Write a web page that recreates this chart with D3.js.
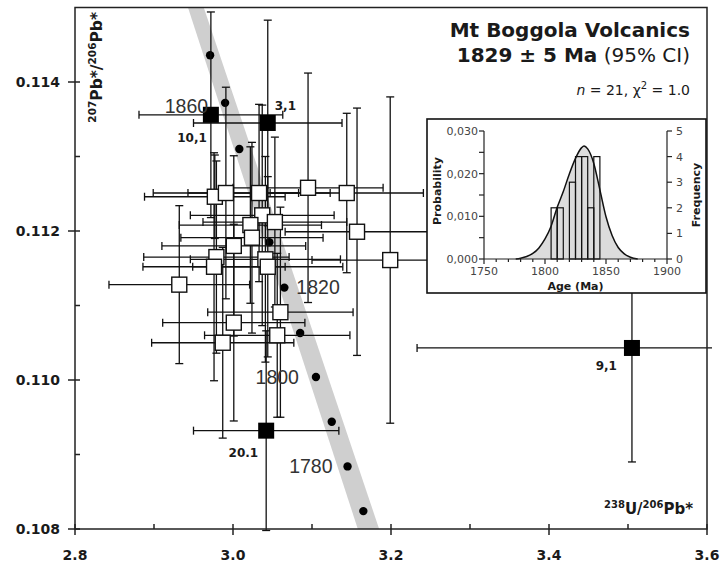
<!DOCTYPE html>
<html>
  <head>
    <meta charset="utf-8">
    <script src="https://d3js.org/d3.v7.min.js" charset="utf-8"></script>
    <style type="text/css">
    body { margin: 0; background: #fff; }
    svg text { font-family: "DejaVu Sans", sans-serif; fill: #1a1a1a; }
    .bold { font-weight: bold; }
    .age-label { font-family: "Liberation Sans", Arial, sans-serif; font-size: 19.5px; fill: #333; }
    </style>
  </head>
  <body>
  <script type="text/javascript">

  // ---- values ----
  var xTicks = [2.8, 3.0, 3.2, 3.4, 3.6];
  var xMinor = [2.9, 3.1, 3.3, 3.5];
  var yTicks = [0.108, 0.110, 0.112, 0.114];
  var yMinor = [0.109, 0.111, 0.113];

  // analyses used in the age (open squares): 238U/206Pb*, 207Pb*/206Pb*, half error bars
  var spotX    = [2.977, 2.991, 3.033, 3.095, 3.144, 3.037, 3.053, 3.022, 3.024, 3.001, 2.979,
                  2.976, 3.041, 3.044, 2.932, 3.060, 3.001, 3.056, 2.987, 3.157, 3.199];
  var spotY    = [0.11246, 0.11251, 0.11251, 0.11258, 0.11251, 0.11221, 0.11212, 0.11208, 0.11191, 0.11180, 0.11165,
                  0.11152, 0.11162, 0.11152, 0.11128, 0.11091, 0.11077, 0.11060, 0.11050, 0.11199, 0.11161];
  var spotXErr = [0.089, 0.092, 0.090, 0.095, 0.097, 0.091, 0.091, 0.090, 0.090, 0.091, 0.092,
                  0.090, 0.095, 0.095, 0.089, 0.092, 0.090, 0.092, 0.090, 0.091, 0.099];
  var spotYErr = [0.00056, 0.00142, 0.00119, 0.00154, 0.00107, 0.00148, 0.00114, 0.00105, 0.00128, 0.00121, 0.00129,
                  0.00153, 0.00138, 0.00121, 0.00106, 0.00141, 0.00132, 0.00110, 0.00128, 0.00166, 0.00219];

  // excluded analyses (filled squares)
  var rejLabel = ["10,1", "3,1", "20.1", "9,1"];
  var rejX     = [2.972, 3.044, 3.042, 3.505];
  var rejY     = [0.11356, 0.11345, 0.10932, 0.11043];
  var rejXErr  = [0.091, 0.094, 0.092, 0.272];
  var rejYErr  = [0.00138, 0.00138, 0.00134, 0.00153];

  // concordia age markers (Ma)
  var concAge = [1870, 1860, 1850, 1840, 1830, 1820, 1810, 1800, 1790, 1780, 1770];
  var concX   = [2.971, 2.990, 3.008, 3.027, 3.046, 3.065, 3.085, 3.105, 3.125, 3.145, 3.165];
  var concY   = [0.11436, 0.11372, 0.11310, 0.11247, 0.11185, 0.11124, 0.11063, 0.11004, 0.10944, 0.10884, 0.10824];
  var concLabelled = [1860, 1820, 1800, 1780];

  // concordia uncertainty band edges
  var bandY     = [0.115, 0.108];
  var bandLeft  = [2.943, 3.158];
  var bandRight = [2.963, 3.185];

  // inset: histogram + probability curve
  var binStart = [1805, 1810, 1815, 1820, 1825, 1830, 1835, 1840];
  var binCount = [2, 2, 0, 3, 4, 4, 2, 4];
  var binWidth = 5;
  var probAge = [1776, 1780, 1785, 1790, 1795, 1800, 1805, 1810, 1815, 1820, 1825, 1830, 1832,
                 1835, 1840, 1845, 1850, 1855, 1860, 1865, 1870, 1876];
  var probVal = [0, 0.0002, 0.0006, 0.0013, 0.0026, 0.0047, 0.0077, 0.0121, 0.0158, 0.0200, 0.0236, 0.0261, 0.0265,
                 0.0258, 0.0224, 0.0162, 0.0099, 0.0055, 0.0027, 0.0012, 0.0004, 0];
  var insetAgeTicks = [1750, 1800, 1850, 1900];
  var probTicks = [0, 0.010, 0.020, 0.030];
  var freqTicks = [0, 1, 2, 3, 4, 5];

  // ---- layout ----
  var W = 720, H = 564;
  var svg = d3.select("body").append("svg").attr("width", W).attr("height", H);

  var x = d3.scaleLinear().domain([2.8, 3.6]).range([75, 707]);
  var y = d3.scaleLinear().domain([0.108, 0.115]).range([529, 7.5]);

  // concordia band
  var bandPts = [[bandLeft[0], bandY[0]], [bandRight[0], bandY[0]], [bandRight[1], bandY[1]], [bandLeft[1], bandY[1]]];
  svg.append("polygon")
    .attr("points", bandPts.map(function(p) { return x(p[0]) + "," + y(p[1]); }).join(" "))
    .attr("fill", "#cfcfcf");

  // concordia dots
  svg.selectAll("circle.conc").data(concAge).enter().append("circle")
    .attr("class", "conc")
    .attr("cx", function(d, i) { return x(concX[i]); })
    .attr("cy", function(d, i) { return y(concY[i]); })
    .attr("r", 4.2)
    .attr("fill", "#000");

  // error crosses
  var clip = svg.append("clipPath").attr("id", "plotclip");
  clip.append("rect").attr("x", 60).attr("y", 0).attr("width", 652).attr("height", 540);
  var bars = svg.append("g").attr("clip-path", "url(#plotclip)")
    .attr("stroke", "#111").attr("stroke-width", 1.3).attr("fill", "none");

  var allX = spotX.concat(rejX), allY = spotY.concat(rejY);
  var allXE = spotXErr.concat(rejXErr), allYE = spotYErr.concat(rejYErr);
  var cap = 4;
  allX.forEach(function(d, i) {
    var cx = x(allX[i]), cy = y(allY[i]);
    var x0 = x(allX[i] - allXE[i]), x1 = x(allX[i] + allXE[i]);
    var y0 = y(allY[i] - allYE[i]), y1 = y(allY[i] + allYE[i]);
    bars.append("line").attr("x1", x0).attr("x2", x1).attr("y1", cy).attr("y2", cy);
    bars.append("line").attr("x1", cx).attr("x2", cx).attr("y1", y0).attr("y2", y1);
    bars.append("line").attr("x1", x0).attr("x2", x0).attr("y1", cy - cap).attr("y2", cy + cap);
    bars.append("line").attr("x1", x1).attr("x2", x1).attr("y1", cy - cap).attr("y2", cy + cap);
    bars.append("line").attr("x1", cx - cap).attr("x2", cx + cap).attr("y1", y0).attr("y2", y0);
    bars.append("line").attr("x1", cx - cap).attr("x2", cx + cap).attr("y1", y1).attr("y2", y1);
  });

  // open squares
  var sq = 15;
  svg.selectAll("rect.spot").data(spotX).enter().append("rect")
    .attr("class", "spot")
    .attr("x", function(d) { return x(d) - sq / 2; })
    .attr("y", function(d, i) { return y(spotY[i]) - sq / 2; })
    .attr("width", sq).attr("height", sq)
    .attr("fill", "#fff").attr("stroke", "#111").attr("stroke-width", 1.4);

  // filled squares
  var fq = 16;
  svg.selectAll("rect.rej").data(rejX).enter().append("rect")
    .attr("class", "rej")
    .attr("x", function(d) { return x(d) - fq / 2; })
    .attr("y", function(d, i) { return y(rejY[i]) - fq / 2; })
    .attr("width", fq).attr("height", fq)
    .attr("fill", "#000");

  // spot labels (offsets in px from the square)
  var rejOffset = { "10,1": [-4, 27, "end"], "3,1": [7, -13, "start"], "20.1": [-8, 26, "end"], "9,1": [-15, 22, "end"] };
  rejLabel.forEach(function(lab, i) {
    var o = rejOffset[lab];
    svg.append("text").attr("class", "bold")
      .attr("x", x(rejX[i]) + o[0]).attr("y", y(rejY[i]) + o[1])
      .attr("text-anchor", o[2]).attr("font-size", 12).text(lab);
  });

  // concordia age labels
  var ageOffset = { 1860: [-17, 10, "end"], 1820: [12, 6, "start"], 1800: [-17, 7, "end"], 1780: [-15, 7, "end"] };
  concLabelled.forEach(function(a) {
    var i = concAge.indexOf(a), o = ageOffset[a];
    svg.append("text").attr("class", "age-label")
      .attr("x", x(concX[i]) + o[0]).attr("y", y(concY[i]) + o[1])
      .attr("text-anchor", o[2]).text(a);
  });

  // frame + ticks
  svg.append("rect").attr("x", 75).attr("y", 7.5).attr("width", 632).attr("height", 521.5)
    .attr("fill", "none").attr("stroke", "#222").attr("stroke-width", 1.5);

  var axes = svg.append("g").attr("stroke", "#222").attr("stroke-width", 1.5);
  xTicks.forEach(function(t) {
    axes.append("line").attr("x1", x(t)).attr("x2", x(t)).attr("y1", 524).attr("y2", 535);
    svg.append("text").attr("class", "bold").attr("x", x(t)).attr("y", 560)
      .attr("text-anchor", "middle").attr("font-size", 14).text(t.toFixed(1));
  });
  xMinor.forEach(function(t) {
    axes.append("line").attr("x1", x(t)).attr("x2", x(t)).attr("y1", 524).attr("y2", 529);
  });
  yTicks.forEach(function(t) {
    axes.append("line").attr("x1", 68).attr("x2", 80).attr("y1", y(t)).attr("y2", y(t));
    svg.append("text").attr("class", "bold").attr("x", 60).attr("y", y(t)).attr("dy", "0.36em")
      .attr("text-anchor", "end").attr("font-size", 14).text(t.toFixed(3));
  });
  yMinor.forEach(function(t) {
    axes.append("line").attr("x1", 75).attr("x2", 80).attr("y1", y(t)).attr("y2", y(t));
  });

  // axis titles with superscripts
  function isotopeTitle(sel, parts, big, small) {
    parts.forEach(function(p) {
      sel.append("tspan").attr("font-size", p[1] ? small : big)
        .attr("dy", p[1] ? -0.42 * big : (p[2] ? 0.42 * big : 0)).text(p[0]);
    });
  }
  var yt = svg.append("text").attr("class", "bold").attr("text-anchor", "end")
    .attr("transform", "translate(102,12) rotate(-90)");
  isotopeTitle(yt, [["207", 1], ["Pb*/", 0, 1], ["206", 1], ["Pb*", 0, 1]], 15.5, 10.5);
  var xt = svg.append("text").attr("class", "bold").attr("text-anchor", "end")
    .attr("x", 693).attr("y", 514);
  isotopeTitle(xt, [["238", 1], ["U/", 0, 1], ["206", 1], ["Pb*", 0, 1]], 15, 10);

  // title block
  svg.append("text").attr("class", "bold").attr("x", 690).attr("y", 37)
    .attr("text-anchor", "end").attr("font-size", 20).text("Mt Boggola Volcanics");
  var t2 = svg.append("text").attr("x", 690).attr("y", 62).attr("text-anchor", "end").attr("font-size", 20);
  t2.append("tspan").attr("class", "bold").text("1829 ± 5 Ma");
  t2.append("tspan").text(" (95% CI)");
  var t3 = svg.append("text").attr("x", 690).attr("y", 95).attr("text-anchor", "end").attr("font-size", 14);
  t3.append("tspan").attr("font-style", "italic").text("n");
  t3.append("tspan").text(" = 21, χ");
  t3.append("tspan").attr("font-size", 10).attr("dy", -6).text("2");
  t3.append("tspan").attr("dy", 6).text(" = 1.0");

  // ---- inset ----
  var inset = svg.append("g");
  inset.append("rect").attr("x", 427).attr("y", 119).attr("width", 279).attr("height", 174)
    .attr("fill", "#fff").attr("stroke", "#111").attr("stroke-width", 1.6);

  var ix = d3.scaleLinear().domain([1750, 1900]).range([484, 667]);
  var ip = d3.scaleLinear().domain([0, 0.030]).range([259, 131]);
  var iff = d3.scaleLinear().domain([0, 5]).range([259, 131]);

  var area = d3.area().curve(d3.curveMonotoneX)
    .x(function(d, i) { return ix(probAge[i]); })
    .y0(ip(0))
    .y1(function(d, i) { return ip(probVal[i]); });
  var line = d3.line().curve(d3.curveMonotoneX)
    .x(function(d, i) { return ix(probAge[i]); })
    .y(function(d, i) { return ip(probVal[i]); });
  inset.append("path").datum(probVal).attr("d", area).attr("fill", "#dcdcdc");

  inset.selectAll("rect.bin").data(binStart).enter().append("rect")
    .attr("class", "bin")
    .attr("x", function(d) { return ix(d); })
    .attr("y", function(d, i) { return iff(binCount[i]); })
    .attr("width", function(d) { return ix(d + binWidth) - ix(d); })
    .attr("height", function(d, i) { return iff(0) - iff(binCount[i]); })
    .attr("fill", "none").attr("stroke", "#111").attr("stroke-width", 1.2);

  inset.append("path").datum(probVal).attr("d", line)
    .attr("fill", "none").attr("stroke", "#111").attr("stroke-width", 1.5);

  var iax = inset.append("g").attr("stroke", "#222").attr("stroke-width", 1.2);
  iax.append("line").attr("x1", 484).attr("x2", 484).attr("y1", 131).attr("y2", 259);
  iax.append("line").attr("x1", 667).attr("x2", 667).attr("y1", 131).attr("y2", 259);
  iax.append("line").attr("x1", 484).attr("x2", 667).attr("y1", 259).attr("y2", 259);
  d3.range(1750, 1901, 10).forEach(function(t) {
    iax.append("line").attr("x1", ix(t)).attr("x2", ix(t)).attr("y1", 259).attr("y2", t % 50 === 0 ? 264 : 262);
  });
  d3.range(0, 0.0301, 0.005).forEach(function(t) {
    iax.append("line").attr("x1", 479).attr("x2", 484).attr("y1", ip(t)).attr("y2", ip(t));
  });
  freqTicks.forEach(function(t) {
    iax.append("line").attr("x1", 667).attr("x2", 672).attr("y1", iff(t)).attr("y2", iff(t));
    inset.append("text").attr("x", 676).attr("y", iff(t)).attr("dy", "0.36em")
      .attr("font-size", 11).style("fill", "#444").text(t);
  });
  probTicks.forEach(function(t) {
    inset.append("text").attr("x", 478).attr("y", ip(t)).attr("dy", "0.36em").attr("text-anchor", "end")
      .attr("font-size", 11).style("fill", "#444").text(t.toFixed(3).replace(".", ","));
  });
  insetAgeTicks.forEach(function(t) {
    inset.append("text").attr("x", ix(t)).attr("y", 275).attr("text-anchor", "middle")
      .attr("font-size", 11).style("fill", "#444").text(t);
  });
  inset.append("text").attr("class", "bold").attr("x", ix(1825)).attr("y", 290)
    .attr("text-anchor", "middle").attr("font-size", 11).text("Age (Ma)");
  inset.append("text").attr("class", "bold").attr("text-anchor", "middle").attr("font-size", 11)
    .attr("transform", "translate(441,191) rotate(-90)").text("Probability");
  inset.append("text").attr("class", "bold").attr("text-anchor", "middle").attr("font-size", 11)
    .attr("transform", "translate(700,195) rotate(-90)").text("Frequency");

  </script>
  </body>
</html>
